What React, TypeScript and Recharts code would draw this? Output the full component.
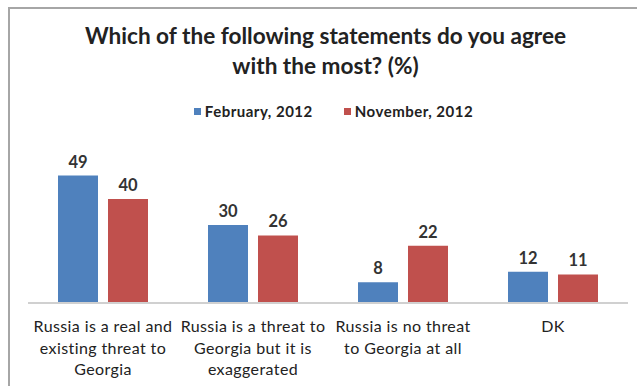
import { BarChart, Bar, XAxis, YAxis, LabelList, Legend } from "recharts";

// Survey categories, split into the lines shown under each group.
const categories = [
  ["Russia is a real and", "existing threat to", "Georgia"],
  ["Russia is a threat to", "Georgia but it is", "exaggerated"],
  ["Russia is no threat", "to Georgia at all"],
  ["DK"],
];
const february2012 = [49, 30, 8, 12];
const november2012 = [40, 26, 22, 11];

const data = categories.map((lines, i) => ({
  name: lines.join(" "),
  feb: february2012[i],
  nov: november2012[i],
}));

const FONT = "Lato, 'Open Sans', sans-serif";

// Multi-line category label under the axis.
function CategoryTick(props: any) {
  const { x, y, payload, index } = props;
  const lines = categories[index] ?? [payload.value];
  return (
    <text x={x} y={y} textAnchor="middle" fontFamily={FONT} fontSize={16} letterSpacing={0.4} fill="#222">
      {lines.map((l: string, i: number) => (
        <tspan key={i} x={x} dy={i === 0 ? 21 : 21.5}>
          {l}
        </tspan>
      ))}
    </text>
  );
}

function LegendContent(props: any) {
  const items = props.payload || [];
  return (
    <div style={{ display: "flex", justifyContent: "center", gap: 31, paddingLeft: 30, fontFamily: FONT, fontSize: 15, letterSpacing: 0.5, fontWeight: 700, color: "#222", lineHeight: "20px" }}>
      {items.map((it: any) => (
        <div key={it.value} style={{ display: "flex", alignItems: "center" }}>
          <span style={{ width: 7, height: 7, background: it.color, marginRight: 4, display: "inline-block" }} />
          {it.value}
        </div>
      ))}
    </div>
  );
}

export default function App() {
  return (
    <div style={{ position: "absolute", left: 0, top: 0, width: 637, height: 386, background: "#fff", overflow: "hidden" }}>
      {/* chart frame: only top and left edges are visible in the crop */}
      <div
        style={{
          position: "absolute",
          left: 8,
          top: 7,
          width: 640,
          height: 400,
          borderLeft: "2px solid #a6a6a6",
          borderTop: "2px solid #a6a6a6",
        }}
      />
      <div
        style={{
          position: "absolute",
          left: 7,
          top: 21,
          width: 637,
          textAlign: "center",
          fontFamily: FONT,
          fontSize: 22.6,
          fontWeight: 700,
          lineHeight: "30px",
          color: "#222",
        }}
      >
        Which of the following statements do you agree
        <br />
        with the most? (%)
      </div>
      <BarChart
        width={637}
        height={386}
        data={data}
        margin={{ top: 147, right: 9, bottom: 0, left: 28 }}
        barGap={10}
        barCategoryGap="20%"
        style={{ position: "absolute", left: 0, top: 0 }}
      >
        <XAxis
          dataKey="name"
          axisLine={{ stroke: "#d0d0d0", strokeWidth: 2 }}
          tickLine={false}
          height={83}
          interval={0}
          tick={<CategoryTick />}
        />
        <YAxis hide domain={[0, 60]} />
        <Legend
          verticalAlign="middle"
          content={<LegendContent />}
          wrapperStyle={{ position: "absolute", top: 101, left: 0, width: 637 }}
        />
        <Bar dataKey="feb" name="February, 2012" fill="#4f81bd" isAnimationActive={false}>
          <LabelList dataKey="feb" position="top" offset={8} fontFamily={FONT} fontSize={16.5} fontWeight={700} fill="#333" />
        </Bar>
        <Bar dataKey="nov" name="November, 2012" fill="#c0504d" isAnimationActive={false}>
          <LabelList dataKey="nov" position="top" offset={8} fontFamily={FONT} fontSize={16.5} fontWeight={700} fill="#333" />
        </Bar>
      </BarChart>
    </div>
  );
}
